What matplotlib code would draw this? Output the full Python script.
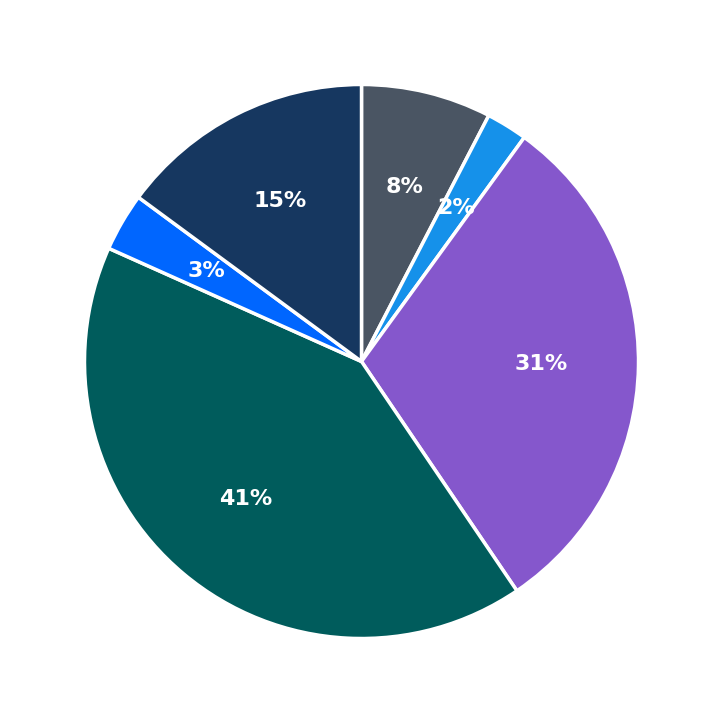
import matplotlib.pyplot as plt

# slice shares (percent), clockwise from 12 o'clock
values = [7.6, 2.4, 30.52, 41.18, 3.4, 14.9]
colors = ['#4a5563', '#1591ea', '#8557cc', '#005c5c', '#0066ff', '#163760']

fig, ax = plt.subplots(figsize=(7.23, 7.23), dpi=100)

wedges, texts, autotexts = ax.pie(
    values,
    colors=colors,
    startangle=90,
    counterclock=False,
    autopct='%1.0f%%',
    pctdistance=0.65,
    radius=1.0,
    wedgeprops=dict(edgecolor='white', linewidth=2.5),
    textprops=dict(color='white', fontsize=16, fontweight='bold'),
)

ax.set_aspect('equal')
ax.set_xlim(-1.305, 1.305)
ax.set_ylim(-1.305, 1.305)
plt.subplots_adjust(left=0, right=1, bottom=0, top=1)
fig.savefig('out.png', dpi=100)
